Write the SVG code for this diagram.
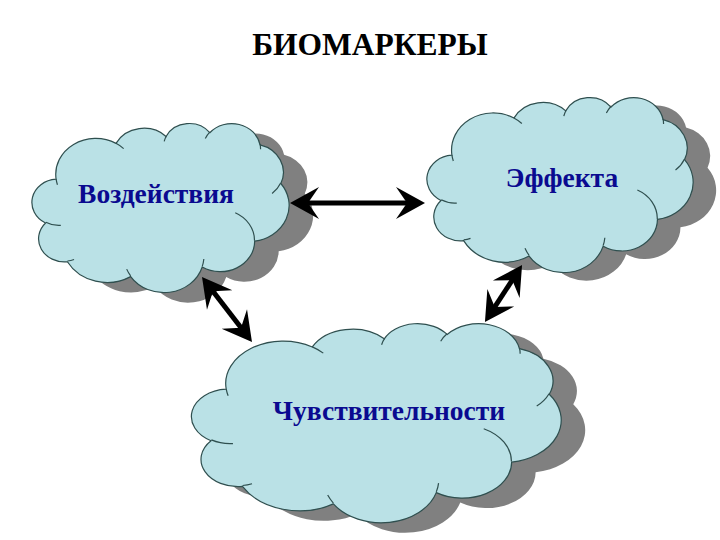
<svg xmlns="http://www.w3.org/2000/svg" xmlns:xlink="http://www.w3.org/1999/xlink" width="720" height="540" viewBox="0 0 720 540">
<style>
.title{font-family:"Liberation Serif","Times New Roman",serif;font-weight:bold;font-size:31.5px;fill:#000;text-anchor:middle}
.lbl{font-family:"Liberation Serif","Times New Roman",serif;font-weight:bold;font-size:27.5px;fill:#0a0a90;text-anchor:middle}
.shadow{fill:#808080;stroke:none}
.body{fill:#bae1e6;stroke:#2f4f4f;stroke-width:1.2}
.inner{fill:none;stroke:#2f4f4f;stroke-width:1.2}
.conn{stroke:#000;stroke-width:5;fill:none}
</style>
<defs>
<path id="cloud" vector-effect="non-scaling-stroke" d="M9.03,33.26 A15.63,21.27 0 0 1 32.42,12.04 A12.35,16.82 0 0 1 51.98,7.95 A10.10,13.76 0 0 1 69.06,5.75 A11.24,15.27 0 0 1 88.70,12.91 A12.35,16.84 0 0 1 96.81,35.79 A15.68,21.34 0 0 1 86.59,69.92 A13.39,18.21 0 0 1 66.11,85.23 A15.63,21.33 0 0 1 38.15,90.90 A17.87,24.41 0 0 1 13.44,82.11 A10.09,13.70 0 0 1 4.90,59.14 A10.06,13.76 0 0 1 9.03,33.26 Z"/>
<path id="lines" vector-effect="non-scaling-stroke" d="M10.86,60.59 A10.06,13.76 0 0 1 5.00,58.75 M16.04,80.78 A10.09,13.70 0 0 1 13.47,81.67 M38.14,90.49 A15.63,21.33 0 0 1 36.60,86.46 M66.73,80.44 A15.63,21.33 0 0 1 66.11,84.86 M79.00,53.13 A13.39,18.21 0 0 1 86.53,69.65 M96.75,35.54 A12.35,16.84 0 0 1 93.40,41.73 M88.71,12.56 A11.24,15.27 0 0 1 88.89,15.48 M67.31,9.15 A11.24,15.27 0 0 1 69.03,5.41 M51.25,10.93 A10.10,13.76 0 0 1 52.08,7.71 M32.41,12.02 A15.63,21.27 0 0 1 35.41,15.14 M9.55,36.55 A15.63,21.27 0 0 1 9.03,33.26"/>
<marker id="head" viewBox="-20 -17 32 34" markerWidth="32" markerHeight="34" refX="0" refY="0" markerUnits="userSpaceOnUse" orient="auto-start-reverse">
<path d="M10,0 L-19,-16 L-8,0 L-19,16 Z" fill="#000"/>
</marker>
</defs>

<text class="title" x="370" y="55">БИОМАРКЕРЫ</text>

<g id="node-vozdeystviya">
<use xlink:href="#cloud" class="shadow" transform="translate(57,133) scale(2.56,1.69)"/>
<g transform="translate(33,123) scale(2.56,1.69)">
<use xlink:href="#cloud" class="body"/>
<use xlink:href="#lines" class="inner"/>
</g>
<text class="lbl" x="156" y="203">Воздействия</text>
</g>

<g id="node-effekta">
<use xlink:href="#cloud" class="shadow" transform="translate(451,105) scale(2.65,1.75)"/>
<g transform="translate(428,97) scale(2.65,1.75)">
<use xlink:href="#cloud" class="body"/>
<use xlink:href="#lines" class="inner"/>
</g>
<text class="lbl" x="562" y="187">Эффекта</text>
</g>

<g id="node-chuvstvitelnosti">
<use xlink:href="#cloud" class="shadow" transform="translate(217,333) scale(3.68,1.99)"/>
<g transform="translate(193,323) scale(3.68,1.99)">
<use xlink:href="#cloud" class="body"/>
<use xlink:href="#lines" class="inner"/>
</g>
<text class="lbl" x="389" y="420">Чувствительности</text>
</g>

<g id="connectors">
<line class="conn" x1="300" y1="203" x2="415" y2="203" marker-start="url(#head)" marker-end="url(#head)"/>
<line class="conn" x1="208.1" y1="284.9" x2="245.9" y2="334.1" marker-start="url(#head)" marker-end="url(#head)"/>
<line class="conn" x1="516.6" y1="273.4" x2="490.4" y2="313.6" marker-start="url(#head)" marker-end="url(#head)"/>
</g>
</svg>
